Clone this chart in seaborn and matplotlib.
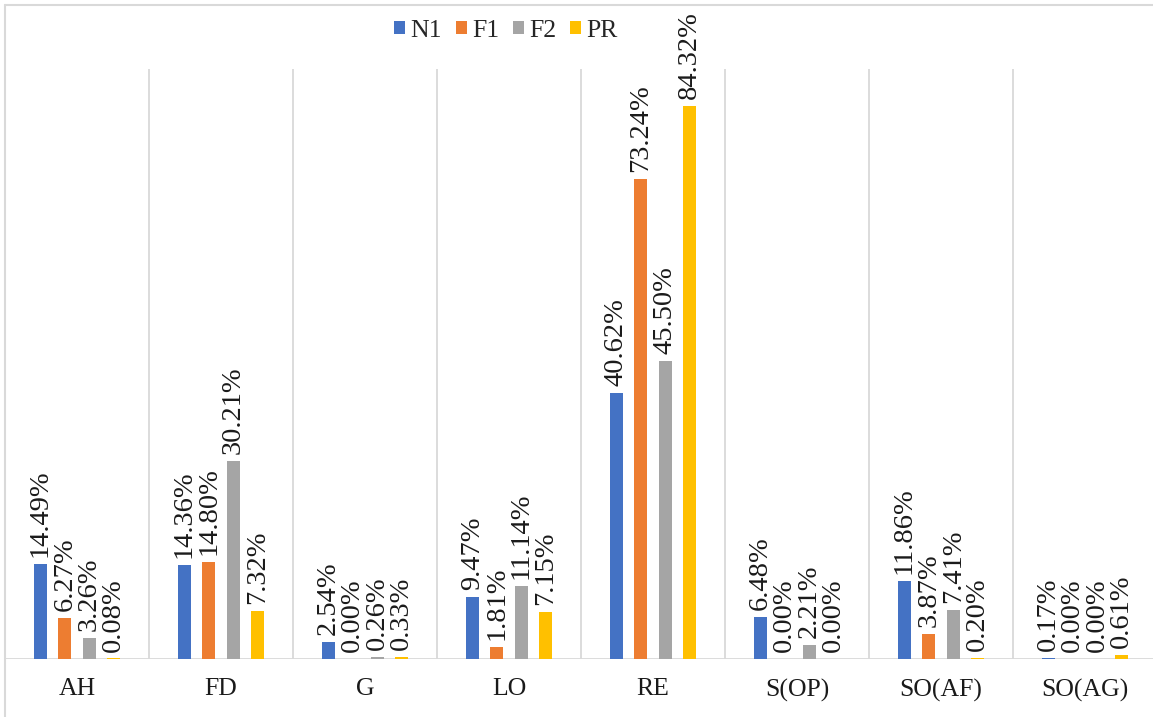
import matplotlib
matplotlib.use("Agg")
import matplotlib.pyplot as plt
from matplotlib.lines import Line2D
from matplotlib.patches import Patch
import seaborn as sns
import pandas as pd

categories = ["AH", "FD", "G", "LO", "RE", "S(OP)", "SO(AF)", "SO(AG)"]
series = ["N1", "F1", "F2", "PR"]
n1 = [14.49, 14.36, 2.54, 9.47, 40.62, 6.48, 11.86, 0.17]
f1 = [6.27, 14.80, 0.00, 1.81, 73.24, 0.00, 3.87, 0.00]
f2 = [3.26, 30.21, 0.26, 11.14, 45.50, 2.21, 7.41, 0.00]
pr = [0.08, 7.32, 0.33, 7.15, 84.32, 0.00, 0.20, 0.61]
colors = ["#4472C4", "#ED7D31", "#A5A5A5", "#FFC000"]

values = {"N1": n1, "F1": f1, "F2": f2, "PR": pr}
rows = []
for s in series:
    for c, v in zip(categories, values[s]):
        rows.append({"category": c, "series": s, "value": v})
df = pd.DataFrame(rows)

sns.set_theme(style="white")
FONT = "Liberation Serif"
plt.rcParams["font.family"] = [FONT, "DejaVu Serif"]

W, H = 1153, 717
fig = plt.figure(figsize=(W / 100, H / 100), dpi=100)
ax = fig.add_axes([5 / W, 1 - 659 / H, 1152 / W, 590 / H])

sns.barplot(data=df, x="category", y="value", hue="series", order=categories,
            hue_order=series, palette=colors, saturation=1, width=0.68,
            gap=0.47, linewidth=0, ax=ax, legend=False)

grid = "#d9d9d9"
ax.set_xlim(-0.5, len(categories) - 0.5)
ax.set_ylim(0, 90)
for k in range(len(categories) + 1):
    ax.axvline(k - 0.5, color=grid, lw=1.3, zorder=0)
ax.axhline(0, color=grid, lw=1.3, zorder=0.5)
for sp in ax.spines.values():
    sp.set_visible(False)
ax.set_yticks([])
ax.set_xlabel("")
ax.set_ylabel("")
ax.tick_params(axis="x", length=0, pad=14)
for t in ax.get_xticklabels():
    t.set_fontfamily(FONT)
    t.set_fontsize(18.5)
    t.set_color("#1a1a1a")

for cont, s in zip(ax.containers, series):
    ax.bar_label(cont, labels=[f"{v:.2f}%" for v in values[s]], rotation=90,
                 padding=5, fontsize=20.5, color="#1a1a1a", fontfamily=FONT)

handles = [Patch(facecolor=c, edgecolor="none") for c in colors]
fig.legend(handles, series, loc="center", bbox_to_anchor=(506 / W, 1 - 31 / H),
           ncol=4, frameon=False, prop={"family": FONT, "size": 18.5},
           handlelength=0.42, handleheight=0.42, handletextpad=0.2,
           columnspacing=0.55, borderaxespad=0)

# outer frame
fig.add_artist(Line2D([5 / W, 1.01], [1 - 5 / H, 1 - 5 / H], color=grid, lw=1.5,
                      transform=fig.transFigure))
fig.add_artist(Line2D([5 / W, 5 / W], [-0.01, 1 - 5 / H], color=grid, lw=1.5,
                      transform=fig.transFigure))

fig.savefig("out.png", dpi=100)
